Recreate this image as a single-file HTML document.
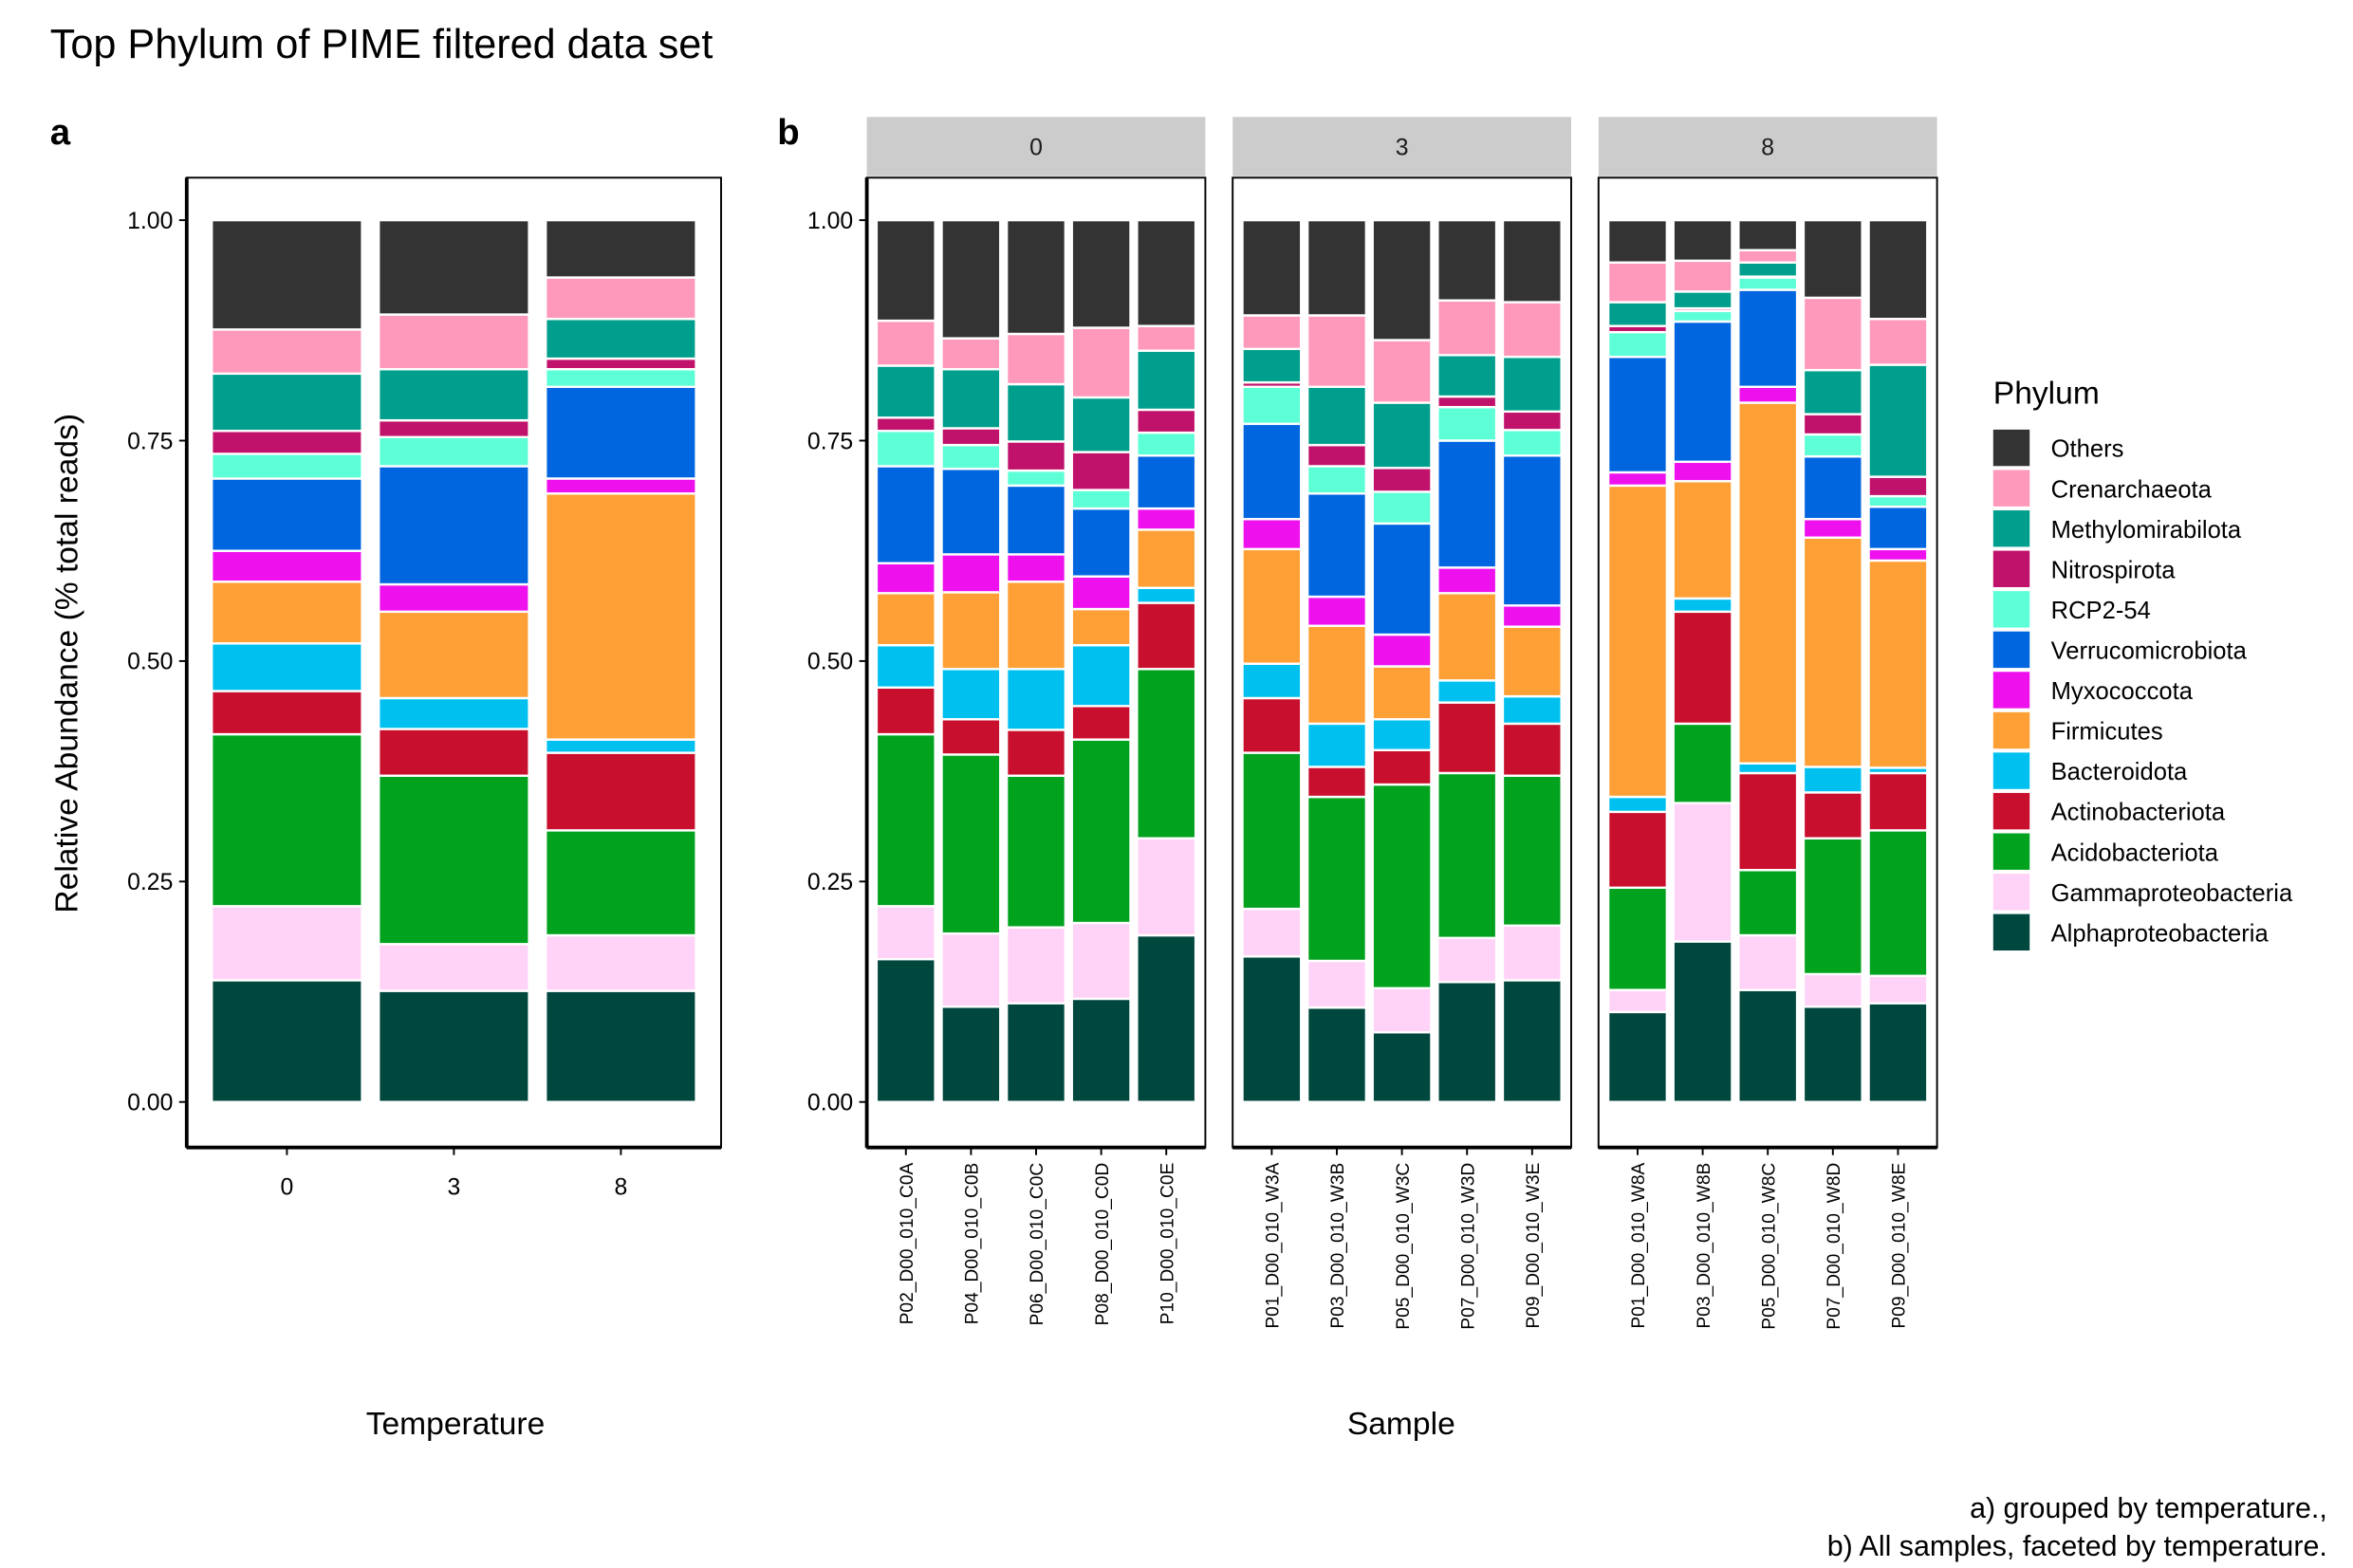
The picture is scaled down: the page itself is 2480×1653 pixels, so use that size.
<!DOCTYPE html>
<html><head><meta charset="utf-8"><style>body{margin:0;background:#fff}svg{display:block;font-family:"Liberation Sans",sans-serif}</style></head>
<body>
<svg id="chart" width="2480" height="1653" viewBox="0 0 1550 1033" xmlns="http://www.w3.org/2000/svg">
<text x="33" y="38" font-size="27">Top Phylum of PIME filtered data set</text>
<text x="33" y="95" font-size="24" font-weight="bold">a</text>
<text x="512" y="95" font-size="24" font-weight="bold">b</text>
<g id="pa"></g><g id="pb"></g><g id="leg"></g>
<text transform="translate(51,437) rotate(-90)" text-anchor="middle" font-size="21">Relative Abundance (% total reads)</text>
<text x="300" y="945" text-anchor="middle" font-size="21">Temperature</text>
<text x="923" y="945" text-anchor="middle" font-size="21">Sample</text>
<text x="1533" y="1000" text-anchor="end" font-size="19">a) grouped by temperature.,</text>
<text x="1533" y="1025" text-anchor="end" font-size="19">b) All samples, faceted by temperature.</text>
</svg>
<script>
const phyla = ["Alphaproteobacteria","Gammaproteobacteria","Acidobacteriota","Actinobacteriota","Bacteroidota","Firmicutes","Myxococcota","Verrucomicrobiota","RCP2-54","Nitrospirota","Methylomirabilota","Crenarchaeota","Others"];
const colors = ["#00473E","#FFD3F7","#00A21E","#C8102E","#00C0F0","#FFA036","#EE11EE","#0066E0","#5CFFD6","#C0126B","#009E8C","#FF99BB","#333333"];
const tempCats = ["0","3","8"];
const tempCum = [
 [.138,.222,.417,.466,.520,.590,.625,.707,.735,.761,.826,.876,1],
 [.126,.179,.370,.423,.458,.556,.587,.721,.754,.773,.831,.893,1],
 [.126,.189,.308,.396,.411,.690,.707,.811,.831,.843,.888,.935,1]];
const facets = ["0","3","8"];
const samples0 = ["P02_D00_010_C0A","P04_D00_010_C0B","P06_D00_010_C0C","P08_D00_010_C0D","P10_D00_010_C0E"];
const samples3 = ["P01_D00_010_W3A","P03_D00_010_W3B","P05_D00_010_W3C","P07_D00_010_W3D","P09_D00_010_W3E"];
const samples8 = ["P01_D00_010_W8A","P03_D00_010_W8B","P05_D00_010_W8C","P07_D00_010_W8D","P09_D00_010_W8E"];
const cum0 = [
 [.162,.222,.417,.470,.518,.577,.611,.721,.761,.776,.835,.886,1],
 [.108,.191,.394,.434,.491,.578,.621,.718,.745,.764,.831,.866,1],
 [.112,.198,.370,.422,.491,.590,.621,.699,.716,.749,.814,.871,1],
 [.117,.203,.411,.449,.518,.559,.596,.673,.694,.737,.799,.878,1],
 [.189,.299,.491,.566,.583,.649,.673,.733,.759,.785,.852,.880,1]];
const cum3 = [
 [.165,.219,.396,.458,.497,.627,.661,.769,.811,.816,.854,.892,1],
 [.107,.160,.346,.380,.429,.540,.573,.690,.721,.745,.811,.892,1],
 [.079,.129,.360,.399,.434,.494,.530,.656,.692,.719,.793,.864,1],
 [.136,.186,.373,.453,.478,.577,.606,.750,.788,.800,.847,.909,1],
 [.138,.200,.370,.429,.460,.539,.563,.733,.762,.783,.845,.907,1]];
const cum8 = [
 [.102,.127,.243,.329,.346,.699,.714,.845,.873,.880,.907,.952,1],
 [.182,.339,.429,.556,.571,.704,.726,.885,.897,.900,.919,.954,1],
 [.127,.189,.263,.373,.384,.793,.811,.921,.935,.936,.952,.966,1],
 [.108,.145,.299,.351,.380,.640,.661,.732,.757,.780,.830,.912,1],
 [.112,.143,.308,.373,.379,.614,.627,.675,.687,.709,.836,.888,1]];
const yTicks = [0,0.25,0.5,0.75,1];
const yLabels = ["0.00","0.25","0.50","0.75","1.00"];

const NS="http://www.w3.org/2000/svg";
function mk(tag, attrs, parent){const e=document.createElementNS(NS,tag);for(const k in attrs)e.setAttribute(k,attrs[k]);parent.appendChild(e);return e;}
const y = v => 726 - v*581;
const yTop=117, yBot=756;

function yAxis(g, x0){
  yTicks.forEach((t,i)=>{
    const l=mk('line',{x1:x0-5,x2:x0,y1:y(t),y2:y(t),stroke:'#000','stroke-width':1.2},g);
    
    
    const tx=mk('text',{x:x0-9,y:y(t)+5.5,'text-anchor':'end','font-size':15.5},g);
    tx.textContent=yLabels[i];
    
    
  });
}
function stack(g, cx, w, cum, name){
  let prev=0;
  cum.forEach((c,i)=>{
    const r=mk('rect',{x:cx-w/2,y:y(c),width:w,height:y(prev)-y(c),fill:colors[i],stroke:'#fff','stroke-width':1.5},g);
    
    
    prev=c;
  });
}
const pa=document.getElementById('pa');
{
  const x0=123,x1=475,unit=(x1-x0)/(tempCats.length-1+1.2);
  const fr=mk('rect',{x:x0,y:yTop,width:x1-x0,height:yBot-yTop,fill:'none',stroke:'#000','stroke-width':1.2},pa);
  
  
  mk('line',{x1:x0,x2:x0,y1:yTop,y2:yBot,stroke:'#000','stroke-width':2.4},pa);
  mk('line',{x1:x0,x2:x1,y1:yBot,y2:yBot,stroke:'#000','stroke-width':2.4},pa);
  yAxis(pa,x0);
  tempCats.forEach((c,i)=>{
    const cx=x0+unit*(0.6+i);
    stack(pa,cx,unit*0.9,tempCum[i],'temp-'+c);
    mk('line',{x1:cx,x2:cx,y1:yBot,y2:yBot+5,stroke:'#000','stroke-width':1.2},pa);
    const t=mk('text',{x:cx,y:yBot+31,'text-anchor':'middle','font-size':15.5},pa);
    t.textContent=c;
    
    
  });
}
const pb=document.getElementById('pb');
const fSamples=[samples0,samples3,samples8], fCum=[cum0,cum3,cum8], fX=[571,812,1053], fW=223;
yAxis(pb,571);
facets.forEach((f,k)=>{
  const x0=fX[k];
  const st=mk('rect',{x:x0,y:77,width:fW,height:39,fill:'#CCCCCC'},pb);
  
  
  const stt=mk('text',{x:x0+fW/2,y:102,'text-anchor':'middle','font-size':15.5,fill:'#1a1a1a'},pb);
  stt.textContent=f;
  
  
  const unit=fW/(fSamples[k].length-1+1.2);
  fSamples[k].forEach((s,i)=>{
    const cx=x0+unit*(0.6+i);
    stack(pb,cx,unit*0.9,fCum[k][i],s.toLowerCase());
    mk('line',{x1:cx,x2:cx,y1:yBot,y2:yBot+5,stroke:'#000','stroke-width':1.2},pb);
    const t=mk('text',{transform:`translate(${cx+4.5},${yBot+10}) rotate(-90)`,'text-anchor':'end','font-size':12},pb);
    t.textContent=s;
    
    
  });
  const fr=mk('rect',{x:x0,y:yTop,width:fW,height:yBot-yTop,fill:'none',stroke:'#000','stroke-width':1.2},pb);
  
  
  mk('line',{x1:x0,x2:x0+fW,y1:yBot,y2:yBot,stroke:'#000','stroke-width':2.4},pb);
});
mk('line',{x1:571,x2:571,y1:yTop,y2:yBot,stroke:'#000','stroke-width':2.4},pb);
const leg=document.getElementById('leg');
const lt=mk('text',{x:1313,y:266,'font-size':21},leg);
lt.textContent='Phylum';


const order=[...phyla.keys()].reverse();
order.forEach((pi,j)=>{
  const yy=283+j*26.6;
  const r=mk('rect',{x:1313,y:yy,width:24,height:24,fill:colors[pi]},leg);
  
  
  const t=mk('text',{x:1351,y:yy+18,'font-size':16},leg);
  t.textContent=phyla[pi];
  
  
});
</script>
</body></html>
